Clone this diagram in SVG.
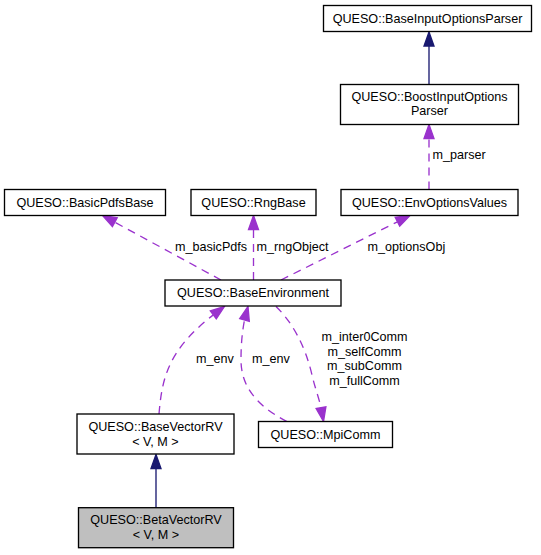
<svg xmlns="http://www.w3.org/2000/svg" width="541" height="555" viewBox="0 0 541 555">
<defs>
<style>
.box{fill:#ffffff;stroke:#000000;stroke-width:1.33}
.cur{fill:#bfbfbf;stroke:#000000;stroke-width:1.33}
.t{font-family:"Liberation Sans",Arial,Helvetica,sans-serif;font-size:12.6px;fill:#000000}
.m{text-anchor:middle}
.inh{fill:none;stroke:#191970;stroke-width:1.33}
.inhA{fill:#191970;stroke:#191970;stroke-width:1.33}
.use{fill:none;stroke:#9a32cd;stroke-width:1.33;stroke-dasharray:8,6}
.useA{fill:#9a32cd;stroke:#9a32cd;stroke-width:1.33}
</style>
</defs>
<rect width="541" height="555" fill="#ffffff"/>
<g id="connectors">
<path class="inh" d="M429,84.5 L429,46"/>
<polygon class="inhA" points="429,32 434,46 424,46"/>
<path class="inh" d="M156,507.7 L156,468.5"/>
<polygon class="inhA" points="156,454.5 161,468.5 151,468.5"/>
<path class="use" d="M429,189.5 L429,138.5"/>
<polygon class="useA" points="429,124.5 434,138.5 424,138.5"/>
<path class="use" d="M253.5,280 L253.5,229.5"/>
<polygon class="useA" points="253.5,215.5 258.5,229.5 248.5,229.5"/>
<path class="use" d="M221,280 L114.8,222.2"/>
<polygon class="useA" points="102.5,215.5 117.2,217.8 112.4,226.6"/>
<path class="use" d="M281,280 L397.5,221.8"/>
<polygon class="useA" points="410,215.5 399.7,226.2 395.2,217.3"/>
<path class="use" d="M159,414 C162,378 168,350 213.3,314.9"/>
<polygon class="useA" points="224.5,306.5 216.3,318.9 210.3,310.9"/>
<path class="use" d="M287,421.5 C255,405 241,385 241,360 C241,345 242,333 244.5,320"/>
<polygon class="useA" points="248,306.5 249.3,321.3 239.7,318.7"/>
<path class="use" d="M276,306.5 C292,322 305,345 312,375 C315,388 319,398 321,407.7"/>
<polygon class="useA" points="323.5,421.5 316.1,408.6 325.9,406.8"/>
<text class="t" x="432.5" y="158.5">m_parser</text>
<text class="t" x="175" y="251">m_basicPdfs</text>
<text class="t" x="256.5" y="251">m_rngObject</text>
<text class="t" x="367.5" y="251">m_optionsObj</text>
<text class="t" x="196" y="362.5">m_env</text>
<text class="t" x="252" y="362.5">m_env</text>
<text class="t m" x="364.5" y="341">m_inter0Comm</text>
<text class="t m" x="364.5" y="355.6">m_selfComm</text>
<text class="t m" x="364.5" y="370.2">m_subComm</text>
<text class="t m" x="364.5" y="384.8">m_fullComm</text>
</g>
<g id="node_BaseInputOptionsParser">
<rect class="box" x="323.5" y="5.5" width="208" height="26"/>
<text class="t m" x="427.5" y="22.7">QUESO::BaseInputOptionsParser</text>
</g>
<g id="node_BoostInputOptionsParser">
<rect class="box" x="340.5" y="84.5" width="178" height="40"/>
<text class="t m" x="429.5" y="101">QUESO::BoostInputOptions</text>
<text class="t m" x="429.5" y="115.3">Parser</text>
</g>
<g id="node_BasicPdfsBase">
<rect class="box" x="4.5" y="189.5" width="161" height="26"/>
<text class="t m" x="85" y="206.7">QUESO::BasicPdfsBase</text>
</g>
<g id="node_RngBase">
<rect class="box" x="191" y="189.5" width="125" height="26"/>
<text class="t m" x="253.5" y="206.7">QUESO::RngBase</text>
</g>
<g id="node_EnvOptionsValues">
<rect class="box" x="341" y="189.5" width="177" height="26"/>
<text class="t m" x="429.5" y="206.7">QUESO::EnvOptionsValues</text>
</g>
<g id="node_BaseEnvironment">
<rect class="box" x="165" y="280" width="176" height="26"/>
<text class="t m" x="253" y="297.2">QUESO::BaseEnvironment</text>
</g>
<g id="node_BaseVectorRV">
<rect class="box" x="77" y="414" width="157" height="40"/>
<text class="t m" x="155.5" y="430.8">QUESO::BaseVectorRV</text>
<text class="t m" x="155.5" y="445.5">&lt; V, M &gt;</text>
</g>
<g id="node_MpiComm">
<rect class="box" x="258.5" y="421.5" width="134" height="26"/>
<text class="t m" x="325.5" y="438.7">QUESO::MpiComm</text>
</g>
<g id="node_BetaVectorRV">
<rect class="cur" x="78.5" y="507.7" width="155" height="40"/>
<text class="t m" x="156" y="524.2">QUESO::BetaVectorRV</text>
<text class="t m" x="156" y="538.8">&lt; V, M &gt;</text>
</g>
</svg>
